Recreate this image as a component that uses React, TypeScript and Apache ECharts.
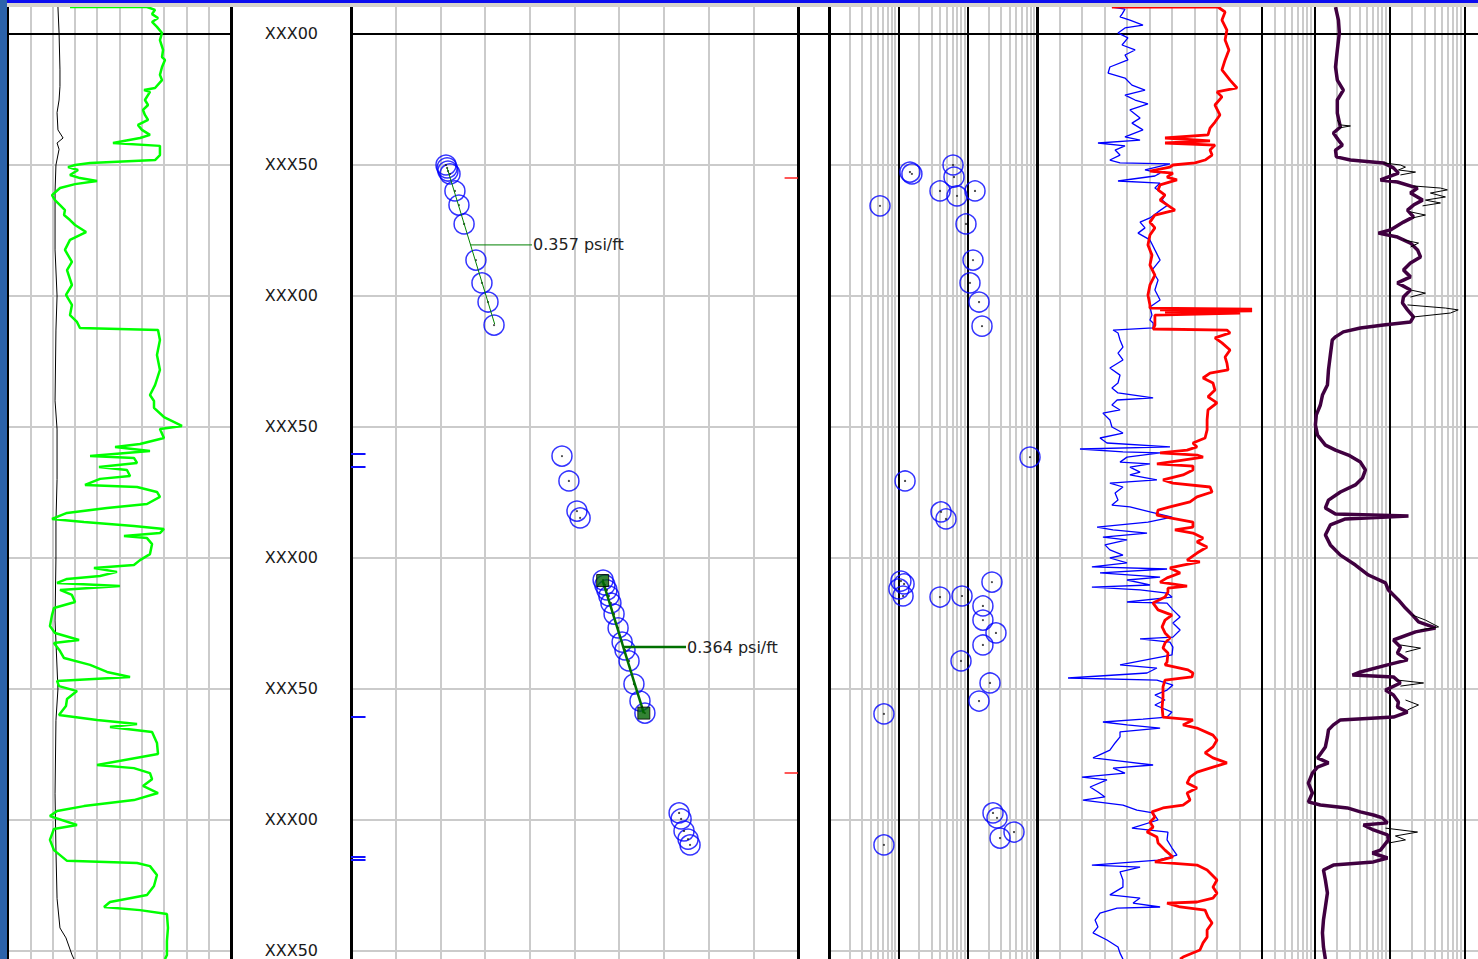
import { useEffect, useRef } from 'react';
import * as echarts from 'echarts';

type Pt = [number, number];

// Depth scale (ft). Ticks every 50 ft; the first tick sits above the visible area.
const DEPTH_MIN = 950;
const DEPTH_MAX = 1353.817;
const DEPTH_STEP = 50;
const MARKER_DEPTH = 1000;

// Track 1: gamma ray (API) and caliper (in), [value, depth]
const grLog: Pt[] = [
  [41.7, 989.7], [93.5, 989.7], [98.9, 990.8], [96.9, 992.4], [100.9, 993.9], [96.9, 995.4], [100.2, 997.3],
  [103.6, 999.6], [102.2, 1002.3], [104.3, 1006.1], [103.6, 1008.8], [105.6, 1009.9], [103.6, 1012.6],
  [102.2, 1015.6], [103.6, 1017.6], [98.9, 1020.6], [91.5, 1021.4], [95.5, 1022.1], [92.1, 1025.2],
  [94.2, 1027.1], [90.8, 1029.0], [92.1, 1030.9], [94.2, 1032.8], [87.4, 1034.7], [90.1, 1036.6],
  [95.5, 1038.5], [88.8, 1039.7], [70.6, 1041.6], [102.2, 1042.7], [102.2, 1046.2], [98.9, 1048.1],
  [55.2, 1049.2], [45.1, 1050.0], [40.4, 1050.8], [47.1, 1051.9], [41.7, 1053.8], [48.4, 1055.0],
  [59.9, 1056.1], [45.1, 1057.3], [35.0, 1058.8], [29.6, 1061.5], [31.6, 1063.4], [35.0, 1065.3],
  [38.3, 1067.2], [37.7, 1069.1], [41.7, 1071.0], [45.1, 1072.9], [52.5, 1075.6], [41.7, 1078.6],
  [38.3, 1082.4], [43.0, 1087.0], [39.7, 1090.1], [43.0, 1095.8], [39.0, 1099.6], [43.0, 1103.4],
  [41.7, 1107.3], [46.4, 1109.9], [48.4, 1112.2], [100.9, 1113.0], [102.2, 1116.8], [100.2, 1122.5],
  [102.2, 1128.2], [98.9, 1134.0], [95.5, 1137.8], [98.2, 1140.1], [98.2, 1142.7], [104.9, 1146.2],
  [117.0, 1149.6], [102.2, 1150.8], [104.9, 1154.2], [88.8, 1156.5], [72.0, 1157.6], [95.5, 1159.2],
  [55.2, 1161.1], [84.7, 1161.8], [86.8, 1163.7], [61.2, 1165.3], [80.0, 1166.4], [82.1, 1168.7],
  [61.9, 1169.8], [51.8, 1172.1], [86.8, 1172.9], [100.2, 1174.8], [102.2, 1176.7], [93.5, 1179.4],
  [66.6, 1180.9], [39.7, 1182.8], [29.6, 1185.1], [51.1, 1186.3], [84.7, 1187.8], [104.9, 1188.9],
  [102.2, 1190.5], [78.0, 1191.6], [93.5, 1192.4], [96.9, 1194.7], [95.5, 1198.5], [88.8, 1200.8],
  [84.7, 1202.7], [57.8, 1203.8], [73.3, 1205.3], [61.9, 1206.9], [39.7, 1208.0], [33.0, 1209.5],
  [75.3, 1210.7], [35.0, 1212.2], [43.0, 1214.1], [45.1, 1216.8], [30.9, 1219.1], [29.6, 1221.8],
  [28.2, 1226.0], [31.6, 1228.6], [47.8, 1231.3], [30.9, 1232.4], [35.0, 1235.5], [37.7, 1238.2],
  [55.2, 1240.8], [66.6, 1243.5], [82.1, 1245.4], [33.0, 1246.9], [34.3, 1248.9], [46.4, 1250.8],
  [39.7, 1253.8], [39.0, 1256.5], [34.3, 1259.9], [59.9, 1261.8], [86.8, 1263.4], [68.6, 1264.5],
  [96.9, 1266.4], [100.2, 1270.6], [100.9, 1274.8], [59.9, 1279.0], [84.7, 1280.2], [95.5, 1282.1],
  [96.9, 1284.4], [90.8, 1287.0], [100.9, 1289.7], [84.7, 1292.4], [51.1, 1294.7], [33.0, 1296.6],
  [28.2, 1298.5], [46.4, 1301.9], [30.9, 1303.4], [28.2, 1307.6], [30.9, 1311.5], [39.7, 1315.6],
  [86.8, 1316.4], [95.5, 1317.6], [100.2, 1321.0], [98.2, 1325.2], [93.5, 1328.6], [68.6, 1331.3],
  [64.6, 1333.2], [88.8, 1334.4], [106.9, 1335.9], [107.6, 1341.2], [106.9, 1346.2], [106.9, 1351.5],
  [105.6, 1353.1],
];

const caliperLog: Pt[] = [
  [8.24, 989.7], [8.29, 999.6], [8.33, 1013.7], [8.33, 1020], [8.29, 1025.2], [8.2, 1030], [8.24, 1036.6],
  [8.47, 1039.7], [8.2, 1041.6], [8.29, 1044], [8.15, 1050.0], [8.11, 1060], [8.11, 1082.4], [8.2, 1100],
  [8.15, 1113.0], [8.11, 1140], [8.2, 1150.8], [8.2, 1170], [8.15, 1186.3], [8.15, 1200], [8.11, 1224.0],
  [8.24, 1250], [8.15, 1262.0], [8.11, 1290], [8.15, 1311.5], [8.2, 1330], [8.33, 1341.2], [8.6, 1345.0],
  [8.87, 1351.5], [8.96, 1353.1],
];

// Formation pressure tests, [psi, depth]
const pressurePoints: Pt[] = [
  [2442.5, 1050.0], [2443.0, 1051.1], [2443.4, 1052.3], [2444.3, 1053.4], [2446.5, 1059.9], [2448.3, 1065.3],
  [2450.6, 1072.5], [2455.9, 1086.3], [2458.6, 1095.0], [2461.3, 1102.3], [2464.0, 1111.1],
  [2494.4, 1161.1], [2497.5, 1170.6], [2501.1, 1182.1], [2502.5, 1184.7],
  [2512.8, 1208.4], [2513.6, 1210.3], [2514.5, 1212.2], [2515.4, 1214.5], [2516.3, 1217.2], [2517.7, 1221.4],
  [2519.5, 1226.7], [2521.3, 1232.1], [2522.6, 1235.1], [2524.4, 1239.3], [2526.6, 1248.1], [2529.3, 1254.6],
  [2531.5, 1259.2],
  [2546.8, 1297.3], [2547.7, 1299.6], [2549.0, 1304.2], [2550.8, 1307.3], [2551.7, 1309.5],
];

// Gradient fits through the pressure points
const gradientValues = [0.357, 0.364];
const gradientTopDepths = [1051.1, 1208.6];
const gradientTopPressures = [2443.0, 2512.6];
const gradientBaseDepths = [1110.7, 1259.2];
const gradientLabelDepths = [1080.5, 1234.0];
const gradientLabelPressures = [2481.0, 2549.9];

// Depth flags on the pressure track edges
const blueFlagDepths = [1160.3, 1165.3, 1260.7, 1314.1, 1315.3];
const redFlagDepths = [1055.0, 1282.1];

// Mobility (md/cP, log), [value, depth]
const mobilityPoints: Pt[] = [
  [5.44, 1065.6], [14.7, 1052.7], [15.7, 1053.4], [61.5, 1050.0], [63.5, 1054.6], [39.9, 1059.9], [70.2, 1061.8],
  [127.6, 1059.9], [94.6, 1072.5], [119.4, 1086.3], [108, 1095.0], [145.8, 1102.3], [161, 1111.5],
  [793, 1161.5], [12.5, 1170.6], [41.3, 1182.4], [48.7, 1185.1],
  [10.9, 1208.8], [12.1, 1209.9], [10.2, 1211.8], [11.7, 1214.5], [39.9, 1214.9], [82.9, 1214.5],
  [224, 1209.2], [166, 1218.3], [166, 1223.7], [256, 1228.6], [166, 1233.2], [80.2, 1239.3],
  [210, 1247.7], [145.8, 1254.6], [6.2, 1259.5],
  [232, 1297.3], [265, 1299.2], [466, 1304.6], [293, 1306.9], [6.2, 1309.5],
];

// Track 5 curves (0-100 linear), [value, depth]
const blueLog: Pt[] = [
  [33.3, 989.7], [39.1, 990.5], [37.8, 992.4], [36.9, 993.5], [41.3, 994.7], [47.1, 996.6], [39.1, 997.7],
  [36.0, 999.6], [40.4, 1001.5], [37.8, 1004.2], [43.6, 1006.1], [39.1, 1008.0], [40.4, 1009.9], [32.4, 1012.6],
  [31.6, 1014.9], [39.1, 1016.8], [42.2, 1019.5], [48.0, 1021.4], [39.1, 1023.3], [43.6, 1025.2], [49.3, 1026.7],
  [41.3, 1029.0], [45.8, 1032.1], [42.2, 1034.0], [47.1, 1036.6], [39.1, 1039.3], [45.8, 1040.5], [27.1, 1041.6],
  [39.1, 1042.7], [34.7, 1044.3], [36.9, 1046.2], [32.4, 1048.1], [36.9, 1049.2], [59.1, 1049.6], [48.0, 1051.9],
  [54.7, 1053.1], [52.4, 1054.2], [36.0, 1056.1], [54.7, 1056.9], [52.4, 1058.8], [56.9, 1061.5], [55.6, 1063.4],
  [58.2, 1065.3], [53.8, 1067.9], [50.2, 1070.2], [45.8, 1071.8], [48.0, 1074.0], [44.9, 1076.0], [50.2, 1078.6],
  [52.4, 1082.4], [54.7, 1086.3], [51.1, 1090.1], [53.8, 1093.9], [52.4, 1097.7], [54.7, 1101.5], [50.2, 1104.2],
  [51.1, 1107.3], [50.2, 1109.2], [51.6, 1110.3], [51.6, 1112.2], [33.8, 1113.0], [36.0, 1114.1], [36.9, 1116.8],
  [38.2, 1119.5], [36.0, 1121.8], [38.2, 1124.4], [32.4, 1127.5], [36.9, 1130.2], [36.0, 1133.2], [33.3, 1135.1],
  [36.0, 1137.0], [51.6, 1138.9], [35.6, 1139.7], [33.3, 1141.6], [36.9, 1143.5], [29.3, 1144.7], [32.4, 1147.3],
  [33.3, 1150.0], [38.2, 1152.3], [28.0, 1154.2], [31.1, 1156.1], [59.1, 1157.6], [19.1, 1158.4], [38.2, 1159.5],
  [54.7, 1159.9], [40.0, 1161.5], [36.9, 1163.4], [50.2, 1164.1], [41.3, 1165.3], [45.8, 1167.2], [41.3, 1168.3],
  [53.3, 1170.2], [32.4, 1171.4], [38.2, 1172.9], [34.7, 1175.2], [36.0, 1177.9], [33.3, 1179.8], [41.3, 1180.5],
  [50.2, 1182.4], [60.0, 1184.4], [49.3, 1186.3], [26.7, 1188.2], [33.8, 1189.3], [48.9, 1190.5], [29.3, 1192.0],
  [40.0, 1193.1], [30.2, 1195.0], [32.4, 1196.9], [38.2, 1198.9], [32.4, 1200.0], [40.0, 1201.9], [24.4, 1203.4],
  [57.8, 1204.2], [28.0, 1205.7], [54.7, 1207.3], [40.0, 1208.4], [50.2, 1210.3], [24.4, 1211.1], [45.8, 1212.2],
  [57.8, 1213.4], [60.0, 1214.9], [40.0, 1216.8], [57.8, 1217.2], [60.4, 1219.8], [63.6, 1222.5], [60.4, 1224.8],
  [63.6, 1227.5], [60.4, 1230.2], [45.8, 1230.9], [59.1, 1232.1], [60.4, 1234.0], [60.0, 1237.0], [36.9, 1240.8],
  [53.3, 1242.0], [48.9, 1243.9], [13.8, 1245.8], [53.3, 1246.6], [60.4, 1248.5], [57.8, 1250.4], [52.4, 1252.3],
  [56.9, 1254.2], [52.4, 1256.1], [60.0, 1258.8], [57.8, 1260.7], [47.1, 1261.5], [29.3, 1262.6], [40.0, 1263.7],
  [54.7, 1264.9], [36.9, 1266.4], [36.9, 1268.3], [34.7, 1270.6], [32.4, 1273.3], [24.9, 1276.3], [51.6, 1279.0],
  [33.8, 1280.2], [39.1, 1282.1], [20.0, 1283.6], [31.1, 1284.7], [23.6, 1287.4], [27.1, 1289.3], [30.2, 1291.2],
  [20.4, 1292.4], [38.2, 1294.3], [44.4, 1296.2], [51.6, 1297.3], [53.8, 1300.0], [42.2, 1303.1], [58.2, 1304.6],
  [57.8, 1307.6], [60.0, 1310.7], [62.2, 1313.4], [53.8, 1315.3], [24.4, 1317.2], [45.8, 1318.0], [36.9, 1319.8],
  [38.2, 1322.9], [38.2, 1325.6], [32.4, 1328.6], [45.8, 1329.8], [42.7, 1331.7], [54.7, 1333.2], [35.6, 1333.6],
  [28.0, 1335.5], [25.8, 1338.2], [27.1, 1340.8], [24.9, 1343.1], [31.1, 1345.8], [36.0, 1348.5], [36.9, 1350.8],
  [38.2, 1353.1],
];

const redLog: Pt[] = [
  [33.3, 989.7], [80.4, 989.7], [83.6, 991.6], [82.2, 994.7], [84.4, 998.5], [83.6, 1002.3], [85.3, 1006.1],
  [83.6, 1009.9], [82.2, 1013.7], [85.8, 1017.6], [88.9, 1020.6], [80.0, 1022.1], [82.2, 1024.0], [79.1, 1027.1],
  [81.3, 1030.9], [79.1, 1033.6], [76.9, 1035.9], [76.0, 1038.5], [56.9, 1039.7], [76.9, 1040.8], [56.9, 1041.6],
  [79.1, 1042.4], [76.9, 1044.3], [77.8, 1046.2], [74.7, 1048.1], [70.2, 1049.2], [60.4, 1050.0], [59.1, 1050.8],
  [50.2, 1052.3], [60.4, 1053.1], [57.8, 1054.6], [62.2, 1055.7], [54.7, 1057.6], [53.8, 1059.5], [56.9, 1061.5],
  [54.7, 1063.4], [61.3, 1067.2], [52.4, 1069.1], [50.2, 1071.8], [52.4, 1074.0], [50.2, 1076.7], [49.3, 1080.5],
  [51.1, 1084.4], [50.2, 1088.2], [52.4, 1092.0], [50.2, 1095.8], [49.3, 1099.6], [50.2, 1103.4], [50.2, 1104.6],
  [95.6, 1105.0], [54.7, 1105.3], [95.6, 1105.7], [56.9, 1106.1], [90.2, 1106.5], [52.4, 1107.3], [52.4, 1108.4],
  [52.4, 1111.1], [51.6, 1112.6], [84.4, 1113.0], [85.8, 1114.1], [79.1, 1116.0], [82.2, 1117.9], [85.8, 1120.6],
  [83.6, 1123.3], [84.4, 1125.6], [84.9, 1128.2], [76.9, 1129.4], [73.8, 1131.3], [78.2, 1133.2], [79.1, 1135.9],
  [76.0, 1138.5], [80.0, 1140.8], [76.0, 1143.5], [75.6, 1147.3], [75.6, 1151.1], [74.7, 1154.2], [69.3, 1156.1],
  [71.1, 1157.6], [66.7, 1158.8], [54.7, 1159.9], [71.1, 1160.7], [73.8, 1161.5], [64.9, 1162.6], [53.3, 1164.1],
  [69.3, 1164.9], [69.3, 1166.4], [64.9, 1168.3], [56.0, 1170.2], [60.4, 1171.4], [76.9, 1172.9], [77.8, 1174.8],
  [71.1, 1176.7], [68.0, 1178.6], [59.1, 1180.5], [53.8, 1181.7], [53.3, 1183.6], [59.1, 1184.7], [69.3, 1186.3],
  [69.3, 1188.2], [61.3, 1189.3], [69.3, 1190.5], [73.8, 1192.4], [71.1, 1193.9], [75.6, 1195.8], [71.1, 1198.1],
  [66.7, 1200.8], [72.4, 1201.5], [64.9, 1202.7], [59.1, 1203.8], [63.6, 1205.7], [57.8, 1207.6], [54.7, 1209.2],
  [66.7, 1210.7], [58.2, 1211.5], [58.2, 1213.0], [56.9, 1214.9], [51.6, 1217.2], [53.8, 1219.8], [60.0, 1221.8],
  [56.9, 1223.7], [55.6, 1226.3], [56.9, 1228.6], [59.1, 1230.5], [56.9, 1232.4], [56.0, 1234.4], [58.2, 1236.3],
  [57.8, 1239.7], [56.9, 1240.8], [67.1, 1242.7], [69.3, 1243.9], [68.9, 1245.4], [56.9, 1246.6], [56.0, 1249.2],
  [56.0, 1253.1], [55.6, 1256.9], [56.0, 1260.7], [69.3, 1261.8], [64.9, 1263.7], [71.1, 1264.9], [78.2, 1267.6],
  [80.0, 1269.5], [78.2, 1272.1], [74.7, 1274.4], [78.2, 1276.3], [84.4, 1278.2], [78.2, 1279.8], [71.1, 1281.7],
  [68.0, 1283.6], [66.7, 1285.9], [71.1, 1287.8], [66.7, 1289.7], [68.0, 1292.4], [64.9, 1294.3], [56.0, 1295.4],
  [51.1, 1296.9], [52.4, 1298.9], [50.2, 1300.8], [51.6, 1302.7], [48.9, 1304.6], [53.3, 1306.5], [53.8, 1308.8],
  [56.9, 1311.5], [60.4, 1314.1], [52.4, 1316.0], [71.1, 1317.2], [75.6, 1319.1], [77.8, 1321.0], [80.0, 1322.9],
  [78.2, 1325.6], [80.0, 1327.9], [78.2, 1329.8], [71.1, 1331.3], [57.8, 1331.7], [63.6, 1333.2], [74.7, 1334.4],
  [76.0, 1337.0], [77.8, 1339.3], [75.6, 1342.0], [75.6, 1344.7], [73.8, 1346.9], [72.4, 1349.6], [64.9, 1352.3],
  [63.6, 1353.1],
];

// Track 6 resistivity (ohm.m, log), [value, depth]
const purpleLog: Pt[] = [
  [19.1, 989.7], [20.9, 994.7], [21.5, 999.6], [20.2, 1006.1], [19.1, 1012.6], [20.2, 1017.6], [24.3, 1021.4],
  [20.2, 1025.2], [20.2, 1030.2], [22.2, 1035.5], [17.9, 1037.8], [20.9, 1040.5], [23.6, 1042.4], [19.1, 1044.3],
  [19.6, 1046.9], [30.2, 1048.1], [83.2, 1049.2], [113.1, 1051.1], [131.8, 1053.1], [75.9, 1055.7], [127.9, 1056.5],
  [237.1, 1058.8], [190.9, 1060.7], [276.6, 1063.4], [209.4, 1065.3], [174.1, 1067.2], [209.4, 1069.8],
  [153.8, 1071.8], [103.1, 1074.8], [71.3, 1076.0], [127.9, 1077.5], [190.9, 1079.8], [237.1, 1082.4],
  [260.0, 1085.1], [190.9, 1087.4], [153.8, 1090.1], [190.9, 1092.7], [127.9, 1095.0], [190.9, 1097.7],
  [153.8, 1100.4], [149.2, 1102.7], [174.1, 1105.3], [209.4, 1108.0], [190.9, 1109.9], [83.2, 1111.1],
  [41.0, 1112.2], [24.3, 1113.7], [19.1, 1115.6], [17.3, 1116.8], [16.3, 1122.5], [15.4, 1128.2], [14.9, 1134.0],
  [12.8, 1137.8], [12.0, 1141.6], [10.6, 1145.4], [10.3, 1149.2], [11.0, 1153.1], [14.0, 1156.9], [19.1, 1158.8],
  [28.4, 1160.7], [41.0, 1163.4], [47.9, 1166.4], [43.7, 1169.5], [35.2, 1172.1], [22.2, 1174.8], [15.4, 1177.9],
  [14.0, 1180.9], [19.1, 1183.2], [179.5, 1184.0], [25.9, 1185.1], [16.3, 1187.4], [14.0, 1191.2], [16.3, 1195.0],
  [22.2, 1198.9], [35.2, 1202.7], [52.5, 1206.5], [88.5, 1209.5], [97.0, 1212.2], [131.8, 1216.0], [163.6, 1219.1],
  [203.1, 1221.8], [244.4, 1224.4], [411, 1226.7], [222.8, 1228.2], [113.1, 1231.3], [140.2, 1234.0],
  [127.9, 1236.3], [174.1, 1238.9], [94.2, 1240.8], [41.0, 1243.5], [32.1, 1244.7], [113.1, 1245.4],
  [140.2, 1247.7], [88.5, 1250.4], [113.1, 1252.3], [131.8, 1255.0], [127.9, 1256.9], [174.1, 1258.8],
  [113.1, 1260.7], [22.2, 1261.8], [17.9, 1263.7], [15.4, 1265.6], [14.9, 1268.3], [14.0, 1272.1], [11.0, 1276.3],
  [15.4, 1278.2], [11.0, 1279.8], [9.4, 1282.1], [8.3, 1285.9], [9.4, 1289.7], [8.3, 1293.1], [12.0, 1294.3],
  [27.5, 1295.4], [41.0, 1296.9], [61.2, 1298.1], [80.8, 1299.2], [94.2, 1301.1], [45.0, 1301.9], [61.2, 1303.8],
  [94.2, 1305.7], [97.0, 1307.6], [75.9, 1311.5], [59.4, 1312.6], [94.2, 1314.5], [61.2, 1316.0], [17.9, 1317.2],
  [13.2, 1319.1], [14.0, 1322.9], [14.9, 1327.9], [14.0, 1333.2], [13.2, 1338.2], [12.8, 1343.1], [13.2, 1348.5],
  [14.0, 1353.1],
];

// Shallow reading where it departs from the deep curve; '-' separates the intervals
const shallowLog: (Pt | ['-', '-'])[] = [
  [20.2, 1032.8], [22.2, 1034.7], [30.2, 1035.1], [20.9, 1035.9], ['-', '-'],
  [83.2, 1049.2], [140.2, 1050.0], [163.6, 1050.8], [131.8, 1051.9], [222.8, 1052.7], [140.2, 1053.8], ['-', '-'],
  [209.4, 1058.0], [479, 1058.8], [593, 1059.5], [352, 1060.7], [558, 1062.2], [302, 1063.4], [479, 1064.5],
  [276.6, 1065.6], ['-', '-'],
  [190.9, 1067.9], [302, 1069.1], [203.1, 1070.2], ['-', '-'],
  [153.8, 1078.6], [244.4, 1079.8], [190.9, 1081.3], ['-', '-'],
  [190.9, 1097.7], [302, 1098.9], [190.9, 1100.4], ['-', '-'],
  [174.1, 1103.4], [558, 1104.6], [826, 1105.3], [651, 1106.5], [209.4, 1108.0], ['-', '-'],
  [203.1, 1221.8], [302, 1223.7], [452, 1226.3], [260, 1227.5], ['-', '-'],
  [140.2, 1233.2], [260, 1234.4], [163.6, 1235.9], ['-', '-'],
  [127.9, 1246.6], [285.2, 1247.7], [140.2, 1248.9], ['-', '-'],
  [163.6, 1254.2], [244.4, 1256.1], [174.1, 1258.0], ['-', '-'],
  [88.5, 1303.1], [237.1, 1304.6], [120.2, 1306.1], [163.6, 1307.6], [97.0, 1308.8],
];

// Log-track minor grid values
const mobilityMinor = [2, 3, 4, 5, 6, 7, 8, 9, 20, 30, 40, 50, 60, 70, 80, 90, 200, 300, 400, 500, 600, 700, 800, 900];
const mobilityDecades = [10, 100];
const resistivityMinor = [3, 4, 5, 6, 7, 8, 9, 20, 30, 40, 50, 60, 70, 80, 90, 200, 300, 400, 500, 600, 700, 800, 900];
const resistivityDecades = [10, 100, 1000];

// The chart canvas starts above the page so the 950 ft tick lands off-screen.
const PAGE_W = 1478;
const PAGE_H = 959;
const CANVAS_SHIFT = 97;
const CANVAS_H = 1058;
const GRAY = '#cbcbcb';
const FONT = "'DejaVu Sans', 'Liberation Sans', Arial, sans-serif";

const trackBoxes = [
  { left: 8, width: 223 },     // gamma ray
  { left: 351, width: 447 },   // pressure
  { left: 798, width: 31 },    // flag gap
  { left: 829, width: 208 },   // mobility
  { left: 1037, width: 225 },  // blue / red curves
  { left: 1262, width: 228 },  // resistivity
];

const noAxisParts = { axisLine: { show: false }, axisTick: { show: false }, axisLabel: { show: false } };

function guideSeries(xAxisIndex: number, yAxisIndex: number, lines: any[]) {
  return {
    type: 'line', xAxisIndex, yAxisIndex, data: [], z: 1, silent: true,
    markLine: {
      silent: true, z: 1, symbol: ['none', 'none'], label: { show: false }, emphasis: { disabled: true },
      animation: false, data: lines,
    },
  };
}

function curve(xAxisIndex: number, yAxisIndex: number, data: any[], color: string, width: number, z = 3) {
  return {
    type: 'line', xAxisIndex, yAxisIndex, data, symbol: 'none', showSymbol: false, silent: true, z,
    lineStyle: { color, width }, emphasis: { disabled: true }, clip: true, connectNulls: false,
  };
}

function circles(xAxisIndex: number, yAxisIndex: number, data: Pt[]) {
  return [
    {
      type: 'scatter', xAxisIndex, yAxisIndex, data, symbol: 'circle', symbolSize: 20, silent: true, z: 3,
      itemStyle: { color: 'rgba(0,0,0,0)', borderColor: '#0000ff', borderWidth: 1.5 }, emphasis: { disabled: true },
    },
    {
      type: 'scatter', xAxisIndex, yAxisIndex, data, symbol: 'circle', symbolSize: 2.2, silent: true, z: 3,
      itemStyle: { color: '#111' }, emphasis: { disabled: true },
    },
  ];
}

const depthLine = { yAxis: MARKER_DEPTH, lineStyle: { color: '#000', width: 2, type: 'solid' } };
const border = (v: number, width = 3) => ({ xAxis: v, lineStyle: { color: '#000', width, type: 'solid' } });

function logLines(minor: number[], decades: number[]) {
  return [
    ...minor.map((v) => ({ xAxis: v, lineStyle: { color: GRAY, width: 2, type: 'solid' } })),
    ...decades.map((v) => ({ xAxis: v, lineStyle: { color: '#000', width: 2, type: 'solid' } })),
  ];
}

function buildOption() {
  const gradientSeries: any[] = [];
  gradientValues.forEach((g, k) => {
    const top = gradientTopDepths[k];
    const base = gradientBaseDepths[k];
    const pAt = (d: number) => gradientTopPressures[k] + g * (d - top);
    const heavy = k === 1;
    const color = heavy ? '#007000' : '#008000';
    const width = heavy ? 2.5 : 1;
    gradientSeries.push(curve(2, 1, [[pAt(top), top], [pAt(base), base]], color, width, 5));
    const ld = gradientLabelDepths[k];
    gradientSeries.push({
      ...curve(2, 1, [[pAt(ld), ld], [gradientLabelPressures[k], ld]], color, width, 5),
      endLabel: {
        show: true, formatter: `${g.toFixed(3)} psi/ft`, distance: 1, color: '#222',
        fontSize: 16, fontFamily: FONT,
      },
    });
    if (heavy) {
      gradientSeries.push({
        type: 'scatter', xAxisIndex: 2, yAxisIndex: 1, silent: true, z: 6, symbol: 'rect', symbolSize: 12,
        data: [[pAt(top), top], [pAt(base), base]],
        itemStyle: { color: '#006400', borderColor: '#000', borderWidth: 1 }, emphasis: { disabled: true },
      });
    }
  });

  const flagSeries = (depths: number[], p0: number, p1: number, color: string, width: number) => ({
    type: 'line', xAxisIndex: 2, yAxisIndex: 1, data: [], z: 7, silent: true,
    markLine: {
      silent: true, z: 7, symbol: ['none', 'none'], label: { show: false }, emphasis: { disabled: true },
      lineStyle: { color, width, type: 'solid' },
      data: depths.map((d) => [{ coord: [p0, d] }, { coord: [p1, d] }]),
    },
  });

  return {
    animation: false,
    backgroundColor: '#ffffff',
    grid: trackBoxes.map((t) => ({
      left: t.left, top: 0, width: t.width, height: CANVAS_H, show: false,
      containLabel: false, outerBoundsMode: 'none',
    })),
    xAxis: [
      { type: 'value', gridIndex: 0, min: 0, max: 150, interval: 15, ...noAxisParts, splitLine: { show: true, lineStyle: { color: GRAY, width: 2 } } },
      { type: 'value', gridIndex: 0, min: 6, max: 16, show: false },
      { type: 'value', gridIndex: 1, min: 2400, max: 2600, interval: 20, ...noAxisParts, splitLine: { show: true, lineStyle: { color: GRAY, width: 2 } } },
      { type: 'value', gridIndex: 2, min: 0, max: 1, show: false },
      { type: 'log', gridIndex: 3, min: 1, max: 1000, logBase: 10, show: false },
      { type: 'value', gridIndex: 4, min: 0, max: 100, interval: 10, ...noAxisParts, splitLine: { show: true, lineStyle: { color: GRAY, width: 2 } } },
      { type: 'log', gridIndex: 5, min: 2, max: 2193, logBase: 10, show: false },
    ],
    yAxis: trackBoxes.map((_, i) => ({
      type: 'value', gridIndex: i, inverse: true, min: DEPTH_MIN, max: DEPTH_MAX, interval: DEPTH_STEP,
      axisLine: { show: false }, axisTick: { show: false },
      axisLabel: i === 1
        ? {
            show: true, margin: 33, color: '#1a1a1a', fontSize: 16, fontFamily: FONT,
            showMinLabel: false, showMaxLabel: false, hideOverlap: false,
            formatter: (v: number) => {
              const r = ((v % 100) + 100) % 100;
              if (Math.abs(r) < 1e-6) return 'XXX00';
              if (Math.abs(r - 50) < 1e-6) return 'XXX50';
              return '';
            },
          }
        : { show: false },
      splitLine: { show: i !== 2, lineStyle: { color: GRAY, width: 2 } },
    })),
    graphic: [
      { type: 'rect', z: 100, shape: { x: 0, y: CANVAS_SHIFT, width: PAGE_W, height: 3 }, style: { fill: '#0c0cf0' } },
      { type: 'rect', z: 100, shape: { x: 0, y: CANVAS_SHIFT + 3, width: PAGE_W, height: 4 }, style: { fill: '#d6d3cc' } },
      { type: 'rect', z: 101, shape: { x: 0, y: CANVAS_SHIFT, width: 7, height: PAGE_H }, style: { fill: '#2c63ab' } },
    ],
    series: [
      // grid guides and track borders
      guideSeries(0, 0, [depthLine, border(0, 2), border(150)]),
      guideSeries(2, 1, [depthLine, border(2400), border(2600)]),
      guideSeries(3, 2, [depthLine]),
      guideSeries(4, 3, [...logLines(mobilityMinor, mobilityDecades), depthLine, border(1), border(1000)]),
      guideSeries(5, 4, [depthLine, border(0), border(100, 2)]),
      guideSeries(6, 5, [...logLines(resistivityMinor, resistivityDecades), depthLine]),

      // track 1
      curve(1, 0, caliperLog, '#000', 1),
      curve(0, 0, grLog, '#00ff00', 2.5),

      // pressure track
      ...circles(2, 1, pressurePoints),
      ...gradientSeries,
      flagSeries(blueFlagDepths, 2400, 2406.5, '#1010ff', 2),
      flagSeries(redFlagDepths, 2594, 2600, '#ff2020', 1.5),

      // mobility track
      ...circles(4, 3, mobilityPoints),

      // track 5
      curve(5, 4, blueLog, '#0000ff', 1.3),
      curve(5, 4, redLog, '#ff0000', 2.8),

      // resistivity track
      curve(6, 5, purpleLog, '#400040', 3.5),
      curve(6, 5, shallowLog, '#000', 1),
    ],
  };
}

export default function App() {
  const ref = useRef<HTMLDivElement>(null);
  useEffect(() => {
    document.body.style.margin = '0';
    document.body.style.overflow = 'hidden';
    const chart = echarts.init(ref.current!, null, { renderer: 'svg' });
    chart.setOption(buildOption() as any);
    return () => chart.dispose();
  }, []);
  return (
    <div style={{ position: 'relative', width: PAGE_W, height: PAGE_H, overflow: 'hidden' }}>
      <div
        ref={ref}
        style={{ position: 'absolute', left: 0, top: -CANVAS_SHIFT, width: PAGE_W, height: CANVAS_H }}
      />
    </div>
  );
}
